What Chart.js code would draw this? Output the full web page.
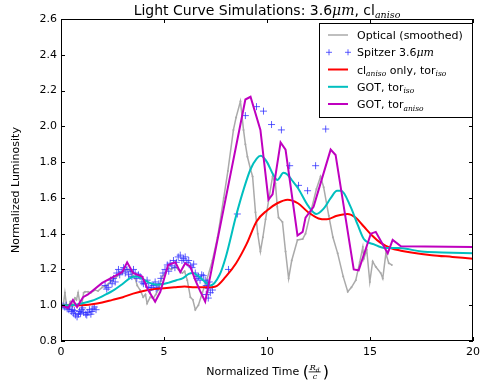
<!DOCTYPE html>
<html><head><meta charset="utf-8">
<script src="https://cdn.jsdelivr.net/npm/chart.js@4/dist/chart.umd.min.js"></script>
<style>html,body{margin:0;padding:0;background:#fff;}canvas{display:block;}</style>
</head><body>
<canvas id="c" width="485" height="385" style="width:485px;height:385px"></canvas>
<script>
// ---- tick labels ----
const xTicks = [0, 5, 10, 15, 20];
const yTicks = [0.8, 1.0, 1.2, 1.4, 1.6, 1.8, 2.0, 2.2, 2.4, 2.6];

// ---- Optical (smoothed) ----
const opticalX = [0.0,0.1,0.19,0.27,0.34,0.45,0.55,0.68,0.75,0.83,0.92,1.02,1.1,1.17,1.31,1.45,1.65,1.8,2.0,2.2,2.48,2.7,2.97,3.1,3.26,3.4,3.5,3.6,3.7,3.84,3.99,4.1,4.18,4.33,4.48,4.6,4.72,4.91,5.06,5.2,5.35,5.55,5.7,5.89,6.0,6.13,6.28,6.4,6.52,6.67,6.86,7.1,7.35,7.6,7.9,8.1,8.37,8.5,8.71,8.86,8.95,9.05,9.2,9.3,9.44,9.55,9.68,9.8,9.93,10.1,10.27,10.41,10.5,10.56,10.75,10.9,11.05,11.2,11.48,11.73,11.87,12.12,12.4,12.6,12.75,13.0,13.2,13.43,13.7,13.92,14.1,14.31,14.5,14.65,14.7,14.84,14.99,15.13,15.28,15.52,15.62,15.77,15.91,16.06];
const opticalY = [1.00,0.99,1.07,1.0,0.985,1.02,1.0,1.04,1.03,1.07,1.01,1.01,1.07,1.075,1.075,1.07,1.085,1.08,1.10,1.11,1.14,1.16,1.18,1.2,1.20,1.19,1.165,1.15,1.11,1.085,1.045,1.06,1.01,1.045,1.04,1.06,1.085,1.16,1.18,1.21,1.20,1.215,1.20,1.18,1.19,1.14,1.045,1.03,0.975,1.0,1.07,1.15,1.25,1.38,1.60,1.75,1.98,2.05,2.14,1.98,1.90,1.83,1.76,1.72,1.52,1.40,1.30,1.38,1.48,1.60,1.72,1.68,1.55,1.49,1.465,1.30,1.15,1.25,1.365,1.37,1.40,1.52,1.65,1.72,1.66,1.50,1.38,1.29,1.16,1.075,1.10,1.14,1.24,1.325,1.26,1.31,1.13,1.245,1.215,1.18,1.15,1.29,1.235,1.225];

// ---- Spitzer 3.6um ----
const spitzerX = [0.03,0.1,0.18,0.25,0.3,0.38,0.42,0.5,0.55,0.6,0.65,0.7,0.78,0.85,0.9,0.95,1.0,1.05,1.1,1.2,1.25,1.3,1.38,1.45,1.5,1.55,1.62,1.7,
  2.14,2.22,2.29,2.4,2.48,2.55,2.63,2.71,2.79,2.85,2.97,3.04,3.12,3.2,3.28,3.36,3.44,3.52,3.6,3.68,3.76,3.84,3.93,4.0,
  4.1,4.18,4.26,4.33,4.4,4.48,4.57,4.62,4.67,4.75,4.85,
  4.95,5.05,5.16,5.23,5.3,5.38,5.46,5.53,5.6,5.69,5.79,5.87,5.95,6.03,6.11,6.2,6.28,6.36,6.44,
  6.52,6.6,6.67,6.75,6.83,6.91,7.0,7.05,7.1,7.15,7.2,7.25,7.15,7.35,7.05,
  8.13,8.56,8.95,9.49,9.83,10.22,10.7,11.1,11.53,11.97,12.36,12.85];
const spitzerY = [1.00,0.995,0.99,1.0,0.98,0.975,0.99,0.965,0.975,0.955,0.97,0.945,0.935,0.95,0.965,0.955,0.975,0.985,0.96,0.95,0.945,0.96,0.975,0.95,0.965,0.98,0.99,0.975,
  1.11,1.09,1.10,1.14,1.12,1.15,1.13,1.18,1.20,1.17,1.19,1.21,1.18,1.2,1.17,1.19,1.16,1.2,1.18,1.15,1.17,1.16,1.13,1.12,
  1.12,1.14,1.10,1.085,1.1,1.11,1.13,1.09,1.10,1.12,1.15,
  1.18,1.2,1.225,1.19,1.235,1.22,1.25,1.21,1.24,1.27,1.28,1.25,1.26,1.27,1.24,1.25,1.22,1.21,1.23,
  1.18,1.15,1.16,1.14,1.17,1.165,1.14,1.11,1.125,1.095,1.13,1.07,1.04,1.085,1.06,
  1.20,1.51,2.06,2.11,2.085,2.01,1.98,1.78,1.67,1.64,1.78,1.985];

// ---- cl_aniso only, tor_iso ----
const redX = [0,0.5,1,1.5,2,2.5,3,3.5,4,4.5,5,5.5,6,6.5,7,7.5,8,8.5,9,9.5,10,10.5,11,11.5,12,12.5,12.9,13.4,13.9,14.3,14.7,15.1,15.5,16,16.5,17,18,19,20];
const redY = [1.0,1.0,1.0,1.005,1.015,1.03,1.045,1.065,1.08,1.09,1.095,1.10,1.105,1.10,1.10,1.105,1.16,1.235,1.34,1.47,1.53,1.57,1.59,1.57,1.52,1.485,1.48,1.50,1.51,1.49,1.44,1.39,1.35,1.32,1.305,1.295,1.28,1.27,1.26];

// ---- GOT, tor_iso ----
const cyanX = [0,0.5,1,1.5,2,2.5,3,3.4,3.7,4.0,4.3,4.7,5.2,5.6,5.9,6.2,6.4,6.7,7.0,7.25,7.7,8.0,8.5,8.9,9.2,9.5,9.7,10.0,10.3,10.5,10.8,11.0,11.2,11.5,12.0,12.4,12.75,13.1,13.4,13.6,14.06,14.4,14.7,15.2,15.7,16.4,17.5,18.5,20];
const cyanY = [1.0,1.0,1.01,1.025,1.05,1.08,1.12,1.155,1.16,1.145,1.125,1.115,1.125,1.14,1.15,1.175,1.18,1.16,1.13,1.11,1.17,1.27,1.50,1.66,1.76,1.82,1.835,1.80,1.73,1.70,1.74,1.73,1.70,1.655,1.555,1.51,1.54,1.60,1.64,1.64,1.55,1.45,1.37,1.34,1.32,1.32,1.30,1.295,1.29];

// ---- GOT, tor_aniso ----
const magX = [0,0.34,0.58,0.78,1.07,1.31,2.0,2.97,3.21,3.5,3.94,4.23,4.57,4.82,5.2,5.55,5.79,6.03,6.28,6.52,6.75,7.0,8.95,9.2,9.68,10.07,10.27,10.66,10.9,11.48,11.73,11.87,12.26,13.09,13.33,14.21,14.45,15.04,15.28,15.86,16.1,16.5,20];
const magY = [1.0,0.985,1.03,0.99,1.045,1.06,1.125,1.185,1.24,1.18,1.16,1.085,1.02,1.075,1.225,1.24,1.185,1.235,1.215,1.14,1.08,1.02,2.15,2.165,1.98,1.59,1.62,1.91,1.87,1.39,1.41,1.49,1.55,1.87,1.84,1.20,1.195,1.40,1.41,1.29,1.365,1.33,1.325];

const SANS = "'DejaVu Sans', sans-serif";
const SERIF = "'DejaVu Serif', serif";
const pts = (xs, ys) => xs.map((x, i) => ({x: x, y: ys[i]}));

const C_OPT = '#aaaaaa', C_SPZ = 'rgba(40,40,255,0.75)', C_RED = '#ff0000', C_CYAN = '#00bfbf', C_MAG = '#bf00bf';

function drawRich(ctx, segs, x, y, align) {
  let w = 0;
  segs.forEach(s => { ctx.font = s.font; w += ctx.measureText(s.t).width; });
  let cx = align === 'center' ? x - w / 2 : x;
  ctx.textAlign = 'left';
  segs.forEach(s => {
    ctx.font = s.font;
    ctx.fillText(s.t, cx, y + (s.dy || 0));
    cx += ctx.measureText(s.t).width;
  });
}

const decor = {
  id: 'decor',
  afterDraw(chart) {
    const ctx = chart.ctx, a = chart.chartArea;
    const xs = chart.scales.x, ys = chart.scales.y;
    ctx.save();
    ctx.strokeStyle = '#000'; ctx.lineWidth = 1;
    ctx.strokeRect(Math.round(a.left) + 0.5, Math.round(a.top) + 0.5, Math.round(a.right - a.left) - 1, Math.round(a.bottom - a.top) - 1);
    ctx.beginPath();
    const TL = 4;
    xTicks.forEach(v => {
      const px = Math.round(xs.getPixelForValue(v)) + 0.5;
      ctx.moveTo(px, a.bottom); ctx.lineTo(px, a.bottom - TL);
      ctx.moveTo(px, a.top); ctx.lineTo(px, a.top + TL);
    });
    yTicks.forEach(v => {
      const py = Math.round(ys.getPixelForValue(v)) + 0.5;
      ctx.moveTo(a.left, py); ctx.lineTo(a.left + TL, py);
      ctx.moveTo(a.right, py); ctx.lineTo(a.right - TL, py);
    });
    ctx.stroke();

    ctx.fillStyle = '#000';
    ctx.textBaseline = 'alphabetic';
    // Title
    drawRich(ctx, [
      {t: 'Light Curve Simulations: 3.6', font: '14px ' + SANS},
      {t: '\u03bcm', font: 'italic 14px ' + SERIF},
      {t: ', cl', font: '14px ' + SANS},
      {t: 'aniso', font: 'italic 9.5px ' + SERIF, dy: 3}
    ], (a.left + a.right) / 2, 15, 'center');

    // Y label
    ctx.save();
    ctx.translate(16, 190);
    ctx.rotate(-Math.PI / 2);
    ctx.font = '11px ' + SANS;
    ctx.textAlign = 'center';
    ctx.textBaseline = 'middle';
    ctx.fillText('Normalized Luminosity', 0, 0);
    ctx.restore();

    // X label
    ctx.textBaseline = 'alphabetic';
    ctx.font = '11px ' + SANS;
    const t1 = 'Normalized Time ';
    const w1 = ctx.measureText(t1).width;
    const fracW = 13, parW = 5;
    const total = w1 + parW * 2 + fracW + 2;
    let x0 = (a.left + a.right) / 2 - total / 2;
    const base = 375;
    ctx.textAlign = 'left';
    ctx.fillText(t1, x0, base);
    let px = x0 + w1;
    ctx.font = '16px ' + SANS;
    ctx.fillText('(', px, base + 2);
    px += parW + 1;
    // fraction
    ctx.font = 'italic 8px ' + SERIF;
    ctx.fillText('R', px + 1, base - 5);
    ctx.font = 'italic 6px ' + SERIF;
    ctx.fillText('d', px + 7, base - 3.5);
    ctx.fillRect(px, base - 3.5, fracW - 1, 0.8);
    ctx.font = 'italic 8px ' + SERIF;
    ctx.fillText('c', px + 4, base + 3.5);
    px += fracW + 1;
    ctx.font = '16px ' + SANS;
    ctx.fillText(')', px, base + 2);

    // Legend
    const L = 319, T = 23, R = 473, B = 118;
    ctx.fillStyle = '#fff';
    ctx.fillRect(L, T, R - L, B - T);
    ctx.strokeStyle = '#000'; ctx.lineWidth = 1;
    ctx.strokeRect(L + 0.5, T + 0.5, R - L - 1, B - T - 1);
    const rows = [35, 52.3, 69.5, 86.8, 104];
    const lx0 = 328, lx1 = 348, tx = 357;
    const lineEntry = (y, col, w) => {
      ctx.strokeStyle = col; ctx.lineWidth = w;
      ctx.beginPath(); ctx.moveTo(lx0, y); ctx.lineTo(lx1, y); ctx.stroke();
    };
    lineEntry(rows[0], C_OPT, 1.5);
    ctx.strokeStyle = C_SPZ; ctx.lineWidth = 1;
    ctx.beginPath();
    [lx0 + 1, lx1].forEach(cx => {
      ctx.moveTo(cx - 3, rows[1]); ctx.lineTo(cx + 3, rows[1]);
      ctx.moveTo(cx, rows[1] - 3); ctx.lineTo(cx, rows[1] + 3);
    });
    ctx.stroke();
    lineEntry(rows[2], C_RED, 2);
    lineEntry(rows[3], C_CYAN, 2);
    lineEntry(rows[4], C_MAG, 2);
    ctx.fillStyle = '#000';
    ctx.textBaseline = 'alphabetic';
    const F = '11px ' + SANS, FI = 'italic 11px ' + SERIF, FS = 'italic 7.5px ' + SERIF;
    const off = 4;
    drawRich(ctx, [{t: 'Optical (smoothed)', font: F}], tx, rows[0] + off, 'left');
    drawRich(ctx, [{t: 'Spitzer 3.6', font: F}, {t: '\u03bcm', font: FI}], tx, rows[1] + off, 'left');
    drawRich(ctx, [{t: 'cl', font: F}, {t: 'aniso', font: FS, dy: 2.5}, {t: ' only, tor', font: F}, {t: 'iso', font: FS, dy: 2.5}], tx, rows[2] + off, 'left');
    drawRich(ctx, [{t: 'GOT, tor', font: F}, {t: 'iso', font: FS, dy: 2.5}], tx, rows[3] + off, 'left');
    drawRich(ctx, [{t: 'GOT, tor', font: F}, {t: 'aniso', font: FS, dy: 2.5}], tx, rows[4] + off, 'left');
    ctx.restore();
  }
};

new Chart(document.getElementById('c').getContext('2d'), {
  type: 'scatter',
  data: {
    datasets: [
      {label: 'Optical (smoothed)', data: pts(opticalX, opticalY), showLine: true, borderColor: C_OPT, backgroundColor: C_OPT, borderWidth: 1.5, pointRadius: 1, pointBorderWidth: 0, pointBackgroundColor: C_OPT, tension: 0, order: 5},
      {label: 'Spitzer 3.6\u03bcm', data: pts(spitzerX, spitzerY), showLine: false, pointStyle: 'cross', pointRadius: 3.5, borderColor: C_SPZ, backgroundColor: C_SPZ, pointBorderWidth: 1, borderWidth: 1, order: 4},
      {label: 'cl_aniso only, tor_iso', data: pts(redX, redY), showLine: true, borderColor: C_RED, borderWidth: 2, pointRadius: 0, cubicInterpolationMode: 'monotone', order: 3},
      {label: 'GOT, tor_iso', data: pts(cyanX, cyanY), showLine: true, borderColor: C_CYAN, borderWidth: 2, pointRadius: 0, cubicInterpolationMode: 'monotone', order: 2},
      {label: 'GOT, tor_aniso', data: pts(magX, magY), showLine: true, borderColor: C_MAG, borderWidth: 2, pointRadius: 0, tension: 0, order: 1}
    ]
  },
  options: {
    responsive: false,
    animation: false,
    devicePixelRatio: 1,
    events: [],
    layout: {padding: {left: 0, right: 12, top: 19, bottom: 0}},
    plugins: {legend: {display: false}, tooltip: {enabled: false}, title: {display: false}},
    scales: {
      x: {
        type: 'linear', min: 0, max: 20,
        afterBuildTicks: ax => { ax.ticks = xTicks.map(v => ({value: v})); },
        afterFit: ax => { ax.height = 44; },
        grid: {display: false, drawTicks: false},
        border: {display: false},
        ticks: {color: '#000', font: {family: SANS, size: 11}, padding: 5, maxRotation: 0, autoSkip: false, callback: v => String(v)}
      },
      y: {
        type: 'linear', min: 0.8, max: 2.6,
        afterBuildTicks: ax => { ax.ticks = yTicks.map(v => ({value: v})); },
        afterFit: ax => { ax.width = 61; },
        grid: {display: false, drawTicks: false},
        border: {display: false},
        ticks: {color: '#000', font: {family: SANS, size: 11}, padding: 4, autoSkip: false, callback: v => Number(v).toFixed(1)}
      }
    }
  },
  plugins: [decor]
});
</script>
</body></html>
